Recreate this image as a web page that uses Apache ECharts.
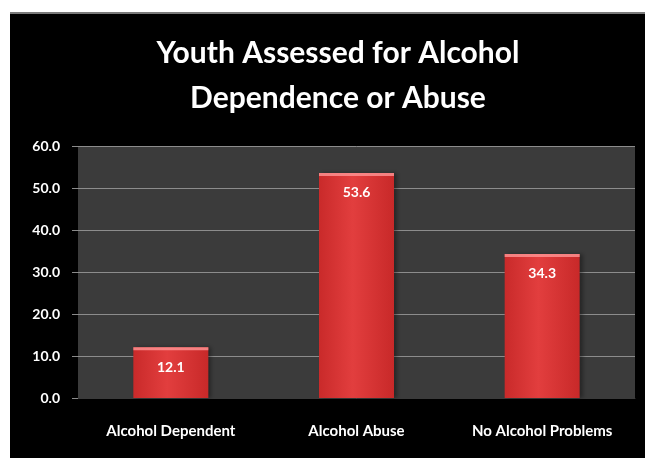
<!DOCTYPE html>
<html>
<head>
<meta charset="utf-8">
<style>
  html, body { margin: 0; padding: 0; background: #000000; overflow: hidden; }
  #edgeTop { position: fixed; left: 0; top: 0; width: 100%; height: 12px; background: #ffffff; }
  #edgeTopLine { position: fixed; left: 10px; top: 12px; width: 100%; height: 2px; background: #7a7a7a; }
  #edgeLeft { position: fixed; left: 0; top: 0; width: 10px; height: 100%; background: #ffffff; }
  #chart { position: absolute; left: 0; top: 0; width: 645px; height: 458px; }
</style>
<script src="https://cdn.jsdelivr.net/npm/echarts@6/dist/echarts.min.js"></script>
</head>
<body>
<div id="edgeTop"></div>
<div id="edgeTopLine"></div>
<div id="edgeLeft"></div>
<div id="chart"></div>
<script>
// Share of assessed youth by outcome (%)
const categories = ['Alcohol Dependent', 'Alcohol Abuse', 'No Alcohol Problems'];
const percentages = [12.1, 53.6, 34.3];
const yTicks = [0, 10, 20, 30, 40, 50, 60];

const chart = echarts.init(document.getElementById('chart'), null, { renderer: 'canvas' });

const barFill = new echarts.graphic.LinearGradient(0, 0, 1, 0, [
  { offset: 0, color: '#c92a2a' },
  { offset: 0.45, color: '#e23e3e' },
  { offset: 1, color: '#c82929' }
]);

chart.setOption({
  backgroundColor: 'transparent',
  animation: false,
  title: {
    text: 'Youth Assessed for Alcohol\nDependence or Abuse',
    left: 333,
    textAlign: 'center',
    top: 26,
    textStyle: {
      color: '#ffffff',
      fontFamily: 'Lato',
      fontWeight: 'bold',
      fontSize: 30,
      lineHeight: 45
    }
  },
  grid: { left: 78, right: 10, top: 146, bottom: 60, containLabel: false,
          show: true, backgroundColor: '#3b3b3b', borderWidth: 0 },
  xAxis: {
    type: 'category',
    data: categories,
    axisLine: { show: true, lineStyle: { color: '#3b3b3b' } },
    axisTick: { show: false },
    axisLabel: {
      color: '#ffffff', fontFamily: 'Lato', fontWeight: 'bold', fontSize: 15,
      margin: 26
    }
  },
  yAxis: {
    type: 'value',
    min: yTicks[0],
    max: yTicks[yTicks.length - 1],
    interval: 10,
    axisLine: { show: false },
    axisTick: { show: true, length: 6, lineStyle: { color: '#8a8a8a' } },
    splitLine: { show: true, lineStyle: { color: '#8c8c8c', width: 1 } },
    axisLabel: {
      color: '#ffffff', fontFamily: 'Lato', fontWeight: 'bold', fontSize: 14,
      margin: 18,
      formatter: v => v.toFixed(1)
    }
  },
  series: [{
    type: 'bar',
    data: percentages,
    barWidth: 75,
    itemStyle: {
      color: barFill,
      borderWidth: 0,
      shadowColor: 'rgba(0,0,0,0.35)',
      shadowOffsetX: 3,
      shadowBlur: 4
    },
    label: {
      show: true,
      position: 'insideTop',
      distance: 13,
      color: '#ffffff',
      fontFamily: 'Lato',
      fontWeight: 'bold',
      fontSize: 14,
      formatter: p => p.value.toFixed(1)
    }
  }]
});

// Thin light strip across the top of every bar
const capGraphics = percentages.map((v, i) => {
  const p = chart.convertToPixel({ seriesIndex: 0 }, [i, v]);
  return {
    type: 'rect', silent: true, z: 100,
    shape: { x: p[0] - 37.5, y: p[1], width: 75, height: 3 },
    style: { fill: 'rgba(255,150,150,0.8)' }
  };
});
chart.setOption({ graphic: capGraphics });
</script>
</body>
</html>
